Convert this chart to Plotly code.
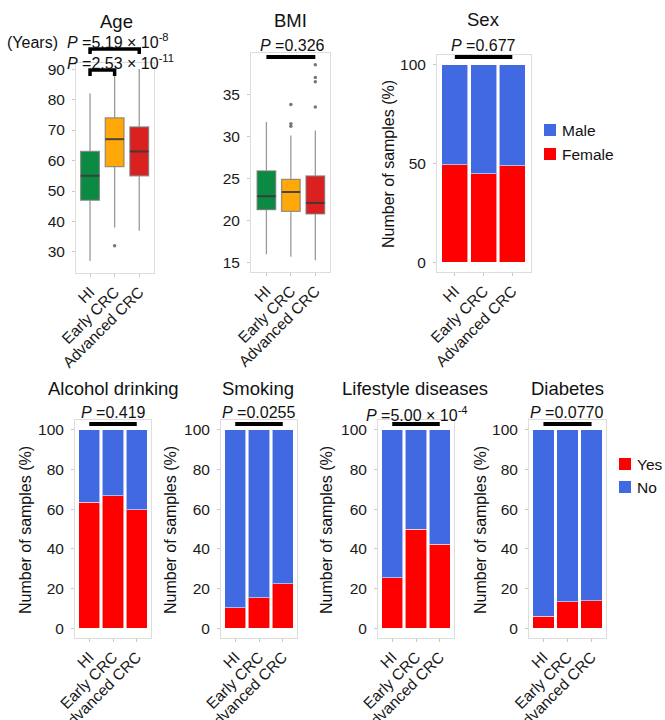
import plotly.graph_objects as go

# ---------------- data ----------------
groups = ["HI", "Early CRC", "Advanced CRC"]
box_colors = ["#0A8A43", "#FFA80A", "#DB2020"]

age_low = [27, 38, 37]
age_q1 = [47, 58, 55]
age_med = [55, 67, 63]
age_q3 = [63, 74, 71]
age_high = [82, 89, 90]
age_outliers = [[], [32], []]

bmi_low = [16.0, 15.7, 15.3]
bmi_q1 = [21.3, 21.1, 20.8]
bmi_med = [22.9, 23.4, 22.1]
bmi_q3 = [25.9, 24.9, 25.3]
bmi_high = [31.7, 30.1, 30.7]
bmi_outliers = [[], [31.2, 31.5, 33.8], [33.5, 36.5, 37.0, 38.5]]

sex_female = [49.3, 44.8, 48.8]
sex_male = [50.7, 55.2, 51.2]

alcohol_yes = [63.6, 66.9, 59.6]
alcohol_no = [36.4, 33.1, 40.4]
smoking_yes = [10.2, 15.4, 22.4]
smoking_no = [89.8, 84.6, 77.6]
lifestyle_yes = [25.5, 49.9, 42.4]
lifestyle_no = [74.5, 50.1, 57.6]
diabetes_yes = [5.9, 13.2, 13.9]
diabetes_no = [94.1, 86.8, 86.1]

sex_legend = [("Male", "#4169E1"), ("Female", "#FF0000")]
yn_legend = [("Yes", "#FF0000"), ("No", "#4169E1")]

p_age_adv = "<i>P</i> =5.19 × 10<sup>-8</sup>"
p_age_early = "<i>P</i> =2.53 × 10<sup>-11</sup>"
p_bmi = "<i>P</i> =0.326"
p_sex = "<i>P</i> =0.677"
p_alcohol = "<i>P</i> =0.419"
p_smoking = "<i>P</i> =0.0255"
p_lifestyle = "<i>P</i> =5.00 × 10<sup>-4</sup>"
p_diabetes = "<i>P</i> =0.0770"

RED = "#FF0000"
BLUE = "#4169E1"
FONT = "Liberation Sans, Arial, sans-serif"

W, H = 665, 720


def px(x):
    return x / W


def py(y):
    return 1 - y / H


fig = go.Figure()

# panel frames in pixels: (x0, x1, ytop, ybottom)
panels = {
    "": (76, 154, 63, 273),       # Age
    "2": (251, 330, 53, 272),     # BMI
    "3": (437, 531, 55, 272),     # Sex
    "4": (75, 151, 420, 638),     # Alcohol
    "5": (221, 297, 420, 638),    # Smoking
    "6": (378, 454, 420, 638),    # Lifestyle
    "7": (529, 606, 420, 638),    # Diabetes
}
xr = {"": [-0.57, 2.6], "2": [-0.63, 2.6], "3": [-0.62, 2.65],
      "4": [-0.6, 2.6], "5": [-0.6, 2.6], "6": [-0.6, 2.6], "7": [-0.6, 2.6]}
yr = {"": [23.1, 92.0], "2": [13.9, 39.9], "3": [-5, 105],
      "4": [-5, 105], "5": [-5, 105], "6": [-5, 105], "7": [-5, 105]}
ytv = {"": [30, 40, 50, 60, 70, 80, 90], "2": [15, 20, 25, 30, 35],
       "3": [0, 50, 100]}
for k in "4567":
    ytv[k] = [0, 20, 40, 60, 80, 100]

idx = [0, 1, 2]


def add_box(suffix, low, q1, med, q3, high, outl):
    xa = "x" + suffix
    ya = "y" + suffix
    for i in idx:
        fig.add_trace(go.Box(
            x=[i], q1=[q1[i]], median=[med[i]], q3=[q3[i]],
            lowerfence=[low[i]], upperfence=[high[i]],
            width=0.76, whiskerwidth=0, boxpoints=False,
            fillcolor=box_colors[i],
            line=dict(color="rgba(120,120,120,0.75)", width=1.3),
            xaxis=xa, yaxis=ya, showlegend=False, hoverinfo="skip"))
        fig.add_trace(go.Scatter(
            x=[i - 0.38, i + 0.38], y=[med[i], med[i]], mode="lines",
            line=dict(color="rgba(45,45,45,0.75)", width=2),
            xaxis=xa, yaxis=ya, showlegend=False, hoverinfo="skip"))
        if outl[i]:
            fig.add_trace(go.Scatter(
                x=[i] * len(outl[i]), y=outl[i], mode="markers",
                marker=dict(color="#777777", size=3.5),
                xaxis=xa, yaxis=ya, showlegend=False, hoverinfo="skip"))


add_box("", age_low, age_q1, age_med, age_q3, age_high, age_outliers)
add_box("2", bmi_low, bmi_q1, bmi_med, bmi_q3, bmi_high, bmi_outliers)


def add_bars(suffix, bottom, top, name_b, name_t):
    for vals, name, col in ((bottom, name_b, RED), (top, name_t, BLUE)):
        fig.add_trace(go.Bar(
            x=idx, y=vals, name=name, width=0.9,
            marker=dict(color=col, line=dict(color="rgba(255,255,255,0.55)", width=1)),
            xaxis="x" + suffix, yaxis="y" + suffix,
            showlegend=False, hoverinfo="skip"))


add_bars("3", sex_female, sex_male, "Female", "Male")
add_bars("4", alcohol_yes, alcohol_no, "Yes", "No")
add_bars("5", smoking_yes, smoking_no, "Yes", "No")
add_bars("6", lifestyle_yes, lifestyle_no, "Yes", "No")
add_bars("7", diabetes_yes, diabetes_no, "Yes", "No")

layout = dict(
    width=W, height=H, margin=dict(l=0, r=0, t=0, b=0, autoexpand=False),
    paper_bgcolor="white", plot_bgcolor="white",
    font=dict(family=FONT, color="#1a1a1a", size=15.5),
    barmode="stack", showlegend=False, hovermode=False,
)
for s, (x0, x1, yt, yb) in panels.items():
    xa = "xaxis" + s
    ya = "yaxis" + s
    layout[xa] = dict(
        domain=[px(x0), px(x1)], range=xr[s], anchor="y" + s,
        tickvals=idx, ticktext=groups, tickangle=-45, automargin=False,
        showline=True, mirror=True, linecolor="#dddddd", linewidth=1,
        ticks="outside", ticklen=3, tickcolor="#c8c8c8",
        showgrid=False, zeroline=False,
        tickfont=dict(size=15.5, family=FONT, color="#1a1a1a"))
    layout[ya] = dict(
        domain=[py(yb), py(yt)], range=yr[s], anchor="x" + s,
        tickvals=ytv[s], automargin=False,
        showline=True, mirror=True, linecolor="#dddddd", linewidth=1,
        ticks="outside", ticklen=3, tickcolor="#c8c8c8",
        showgrid=False, zeroline=False, ticklabelstandoff=4,
        tickfont=dict(size=15.5, family=FONT, color="#1a1a1a"))
fig.update_layout(**layout)

annots = []


def text(x, y, t, size=16, angle=0, xanchor="center"):
    annots.append(dict(x=px(x), y=py(y), xref="paper", yref="paper", text=t,
                       showarrow=False, textangle=angle, xanchor=xanchor,
                       yanchor="middle",
                       font=dict(size=size, family=FONT, color="#111111")))


# titles
text(116, 21, "Age", 18.5)
text(290, 20, "BMI", 18.5)
text(483, 19, "Sex", 18.5)
text(113, 388, "Alcohol drinking", 18.5)
text(258, 388, "Smoking", 18.5)
text(415, 388, "Lifestyle diseases", 18.5)
text(567, 388, "Diabetes", 18.5)

# y-axis titles
text(32, 42, "(Years)", 16)
text(389, 164, "Number of samples (%)", 16, -90)
for xx in (25, 170, 326, 480):
    text(xx, 530, "Number of samples (%)", 16, -90)

# p-values
text(118, 41, p_age_adv, 16)
text(120, 62, p_age_early, 16)
text(292, 45, p_bmi, 16)
text(483, 45, p_sex, 16)
text(113, 412, p_alcohol, 16)
text(259, 412, p_smoking, 16)
text(417, 414, p_lifestyle, 16)
text(567, 412, p_diabetes, 16)

shapes = []


def legend_block(x_sq, y_first, dy, items):
    for k, (lab, col) in enumerate(items):
        yc = y_first + k * dy
        shapes.append(dict(type="rect", xref="paper", yref="paper",
                           x0=px(x_sq), x1=px(x_sq + 12),
                           y0=py(yc + 6), y1=py(yc - 6),
                           fillcolor=col, line=dict(width=0)))
        text(x_sq + 16, yc, lab, 15.5, xanchor="left")


legend_block(544, 130, 24, sex_legend)
legend_block(619, 464, 23, yn_legend)

fig.update_layout(annotations=annots)


def hline(suffix, i0, i1, y, w=4):
    shapes.append(dict(type="line", xref="x" + suffix, yref="paper",
                       x0=i0, x1=i1, y0=py(y), y1=py(y),
                       line=dict(color="black", width=w)))


def bracket(suffix, i0, i1, ytop, ybot, w=3.5):
    shapes.append(dict(type="path", xref="x" + suffix, yref="paper",
                       path=f"M {i0},{py(ybot)} L {i0},{py(ytop)} L {i1},{py(ytop)} L {i1},{py(ybot)}",
                       line=dict(color="black", width=w)))


bracket("", 0, 2, 49, 54)
bracket("", 0, 1, 70, 76)
hline("2", 0, 2, 57)
hline("3", 0, 2, 57)
for s in "4567":
    hline(s, 0, 2, 424)

fig.update_layout(shapes=shapes)

fig.write_html(
    "out.html",
    config={"displayModeBar": False, "staticPlot": True},
    post_script="document.body.style.margin='0px';document.body.style.overflow='hidden';",
)
